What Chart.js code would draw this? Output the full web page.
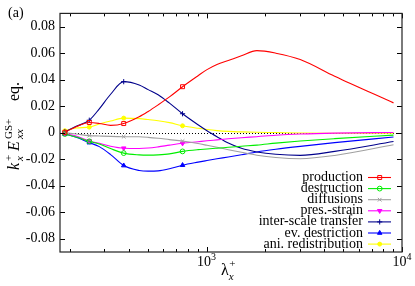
<!DOCTYPE html>
<html>
<head>
<meta charset="utf-8">
<script src="https://cdn.jsdelivr.net/npm/chart.js@4.4.1/dist/chart.umd.min.js"></script>
<style>
  html, body { margin: 0; padding: 0; background: #fff; }
  #wrap { width: 415px; height: 286px; }
</style>
</head>
<body>
<div id="wrap"><canvas id="c" width="415" height="286"></canvas></div>
<script>
// wavelengths lambda_x^+ (Lx+/n)
const lambdaX = [188.5, 215.4, 251.3, 282.8, 323.1, 377.0, 452.4, 502.7, 565.5, 646.3, 754.0,
  904.8, 1005.3, 1131.0, 1292.6, 1508.0, 1809.6, 2262.0, 3016.0, 4524.0, 9048.0];

const production = [0.0003, 0.0045, 0.0077, 0.0070, 0.0055, 0.0069, 0.0120, 0.0160, 0.0210, 0.0270, 0.0347,
  0.0430, 0.0476, 0.0515, 0.0545, 0.0580, 0.0619, 0.0600, 0.0552, 0.0426, 0.0225];
const destruction = [-0.0010, -0.0033, -0.0065, -0.0085, -0.0120, -0.0154, -0.0167, -0.0169, -0.0167, -0.0160, -0.0141,
  -0.0128, -0.0123, -0.0117, -0.0110, -0.0102, -0.0094, -0.0079, -0.0063, -0.0045, -0.0018];
const diffusions = [0.0000, -0.0010, -0.0022, -0.0025, -0.0028, -0.0030, -0.0031, -0.0035, -0.0042, -0.0052, -0.0063,
  -0.0082, -0.0095, -0.0110, -0.0128, -0.0148, -0.0170, -0.0187, -0.0196, -0.0172, -0.0091];
const presStrain = [-0.0005, -0.0025, -0.0062, -0.0080, -0.0102, -0.0117, -0.0119, -0.0116, -0.0107, -0.0094, -0.0080,
  -0.0068, -0.0061, -0.0054, -0.0046, -0.0038, -0.0030, -0.0019, -0.0010, -0.0003, 0.0002];
const interScale = [0.0008, 0.0048, 0.0094, 0.0180, 0.0290, 0.0385, 0.0360, 0.0325, 0.0286, 0.0223, 0.0143,
  0.0060, 0.0015, -0.0030, -0.0078, -0.0118, -0.0145, -0.0163, -0.0171, -0.0141, -0.0067];
const evDestriction = [-0.0010, -0.0035, -0.0075, -0.0105, -0.0165, -0.0248, -0.0285, -0.0290, -0.0288, -0.0272, -0.0245,
  -0.0222, -0.0210, -0.0197, -0.0183, -0.0166, -0.0145, -0.0125, -0.0103, -0.0075, -0.0033];
const aniRedist = [0.0015, 0.0035, 0.0042, 0.0065, 0.0088, 0.0110, 0.0106, 0.0099, 0.0090, 0.0076, 0.0052,
  0.0033, 0.0024, 0.0016, 0.0010, 0.0006, 0.0003, 0.0001, -0.0002, -0.0004, -0.0004];

const yTicks = [-0.08, -0.06, -0.04, -0.02, 0, 0.02, 0.04, 0.06, 0.08];
const xMinor = [200, 300, 400, 500, 600, 700, 800, 900, 2000, 3000, 4000, 5000, 6000, 7000, 8000, 9000];
const xMajor = [1000, 10000];
const markIdx = [0, 2, 5, 10];

const SERIF = '"Liberation Serif", "DejaVu Serif", serif';

const series = [
  { label: "production", data: production, color: "#ff0000", style: "rect", open: true, r: 2.8 },
  { label: "destruction", data: destruction, color: "#00ee00", style: "circle", open: true, r: 2.4 },
  { label: "diffusions", data: diffusions, color: "#a0a0a0", style: "crossRot", open: true, r: 2.6 },
  { label: "pres.-strain", data: presStrain, color: "#ff00ff", style: "triangle", rot: 180, r: 2.6 },
  { label: "inter-scale transfer", data: interScale, color: "#00008b", style: "cross", r: 2.6 },
  { label: "ev. destriction", data: evDestriction, color: "#0000ff", style: "triangle", r: 2.6 },
  { label: "ani. redistribution", data: aniRedist, color: "#ffff00", style: "circle", r: 2.0 },
];

const datasets = series.map((s) => ({
  label: s.label,
  data: lambdaX.map((x, i) => ({ x, y: s.data[i] })),
  borderColor: s.color,
  backgroundColor: s.open ? "rgba(0,0,0,0)" : s.color,
  borderWidth: 1.1,
  pointStyle: s.style,
  pointRotation: s.rot || 0,
  pointBorderColor: s.color,
  pointBackgroundColor: s.open ? "rgba(0,0,0,0)" : s.color,
  pointBorderWidth: 1,
  pointRadius: (ctx) => (markIdx.includes(ctx.dataIndex) ? s.r : 0),
  pointHoverRadius: 0,
  cubicInterpolationMode: "monotone",
}));

// frame, inward ticks, zero line, titles, legend
const decor = {
  id: "decor",
  beforeDatasetsDraw(chart) {
    const { ctx, chartArea: a, scales } = chart;
    const y0 = Math.round(scales.y.getPixelForValue(0)) + 0.5;
    ctx.save();
    ctx.strokeStyle = "#000";
    ctx.lineWidth = 1;
    ctx.setLineDash([1, 2]);
    ctx.beginPath(); ctx.moveTo(a.left, y0); ctx.lineTo(a.right, y0); ctx.stroke();
    ctx.restore();
  },
  afterDatasetsDraw(chart) {
    const { ctx, chartArea: a, scales } = chart;
    const xs = scales.x, ys = scales.y;
    ctx.save();
    ctx.strokeStyle = "#000";
    ctx.lineWidth = 1;
    ctx.beginPath();
    yTicks.forEach((v) => {
      const p = Math.round(ys.getPixelForValue(v)) + 0.5;
      ctx.moveTo(a.left, p); ctx.lineTo(a.left + 5, p);
      ctx.moveTo(a.right, p); ctx.lineTo(a.right - 5, p);
    });
    xMinor.forEach((v) => {
      const p = Math.round(xs.getPixelForValue(v)) + 0.5;
      ctx.moveTo(p, a.top); ctx.lineTo(p, a.top + 3);
      ctx.moveTo(p, a.bottom); ctx.lineTo(p, a.bottom - 3);
    });
    xMajor.forEach((v) => {
      const p = Math.round(xs.getPixelForValue(v)) + 0.5;
      ctx.moveTo(p, a.top); ctx.lineTo(p, a.top + 5);
      ctx.moveTo(p, a.bottom); ctx.lineTo(p, a.bottom - 5);
    });
    ctx.stroke();
    ctx.lineWidth = 1.2;
    ctx.strokeStyle = "#222";
    ctx.strokeRect(a.left, a.top, a.right - a.left, a.bottom - a.top);

    // x tick labels 10^3, 10^4
    ctx.fillStyle = "#000";
    ctx.textBaseline = "alphabetic";
    ctx.textAlign = "left";
    xMajor.forEach((v) => {
      const p = xs.getPixelForValue(v);
      const exp = String(Math.round(Math.log10(v)));
      ctx.font = "14px " + SERIF;
      const w1 = ctx.measureText("10").width;
      ctx.font = "10px " + SERIF;
      const w2 = ctx.measureText(exp).width;
      const x0 = p - (w1 + w2) / 2;
      ctx.font = "14px " + SERIF;
      ctx.fillText("10", x0, 266);
      ctx.font = "10px " + SERIF;
      ctx.fillText(exp, x0 + w1, 260);
    });

    // x title
    ctx.font = "16px " + SERIF;
    ctx.fillText("λ", 221, 275);
    const lw = ctx.measureText("λ").width;
    ctx.font = "11px " + SERIF;
    ctx.fillText("+", 221 + lw + 0.5, 267);
    ctx.font = "italic 11px " + SERIF;
    ctx.fillText("x", 221 + lw, 280);

    // y title (rotated), pieces placed along the text run
    ctx.save();
    ctx.translate(19, 171);
    ctx.rotate(-Math.PI / 2);
    ctx.font = "italic 16px " + SERIF;
    ctx.fillText("k", 1, 0);
    ctx.font = "11px " + SERIF;
    ctx.fillText("+", 10, -7);
    ctx.font = "italic 11px " + SERIF;
    ctx.fillText("x", 10, 4);
    ctx.font = "italic 16px " + SERIF;
    ctx.fillText("E", 20, 0);
    ctx.font = "italic 11px " + SERIF;
    ctx.fillText("xx", 32, 4);
    ctx.font = "11px " + SERIF;
    ctx.fillText("GS+", 32, -7);
    ctx.font = "16px " + SERIF;
    ctx.fillText("eq.", 70, 0);
    ctx.restore();

    // panel label
    ctx.font = "14px " + SERIF;
    ctx.fillText("(a)", 8, 17);

    // legend
    ctx.font = "14px " + SERIF;
    ctx.textAlign = "right";
    series.forEach((s, i) => {
      const ry = 177 + i * 11.1;
      ctx.fillStyle = "#000";
      ctx.fillText(s.label, 363, ry + 4);
      ctx.strokeStyle = s.color;
      ctx.lineWidth = 1.1;
      ctx.beginPath(); ctx.moveTo(368, ry + 0.5); ctx.lineTo(391, ry + 0.5); ctx.stroke();
      ctx.fillStyle = s.open ? "rgba(0,0,0,0)" : s.color;
      ctx.lineWidth = 1;
      Chart.helpers.drawPoint(ctx, { pointStyle: s.style, rotation: s.rot || 0, radius: s.r, borderWidth: 1 }, 379.7, ry + 0.5);
    });
    ctx.restore();
  },
};

new Chart(document.getElementById("c"), {
  type: "line",
  data: { datasets },
  options: {
    responsive: false,
    animation: false,
    events: [],
    layout: { padding: { top: 9, right: 13, bottom: 34, left: 0 } },
    plugins: { legend: { display: false }, tooltip: { enabled: false } },
    scales: {
      x: { type: "logarithmic", min: 178, max: 10000, display: false },
      y: {
        type: "linear", min: -0.09, max: 0.09,
        grid: { display: false, drawTicks: false },
        border: { display: false },
        afterFit: (s) => { s.width = 60; },
        afterBuildTicks: (s) => { s.ticks = yTicks.map((v) => ({ value: v })); },
        ticks: {
          padding: 5, color: "#000",
          font: { family: SERIF, size: 14 },
          callback: (v) => (Math.abs(v) < 1e-9 ? "0" : v.toFixed(2)),
        },
      },
    },
  },
  plugins: [decor],
});
</script>
</body>
</html>
